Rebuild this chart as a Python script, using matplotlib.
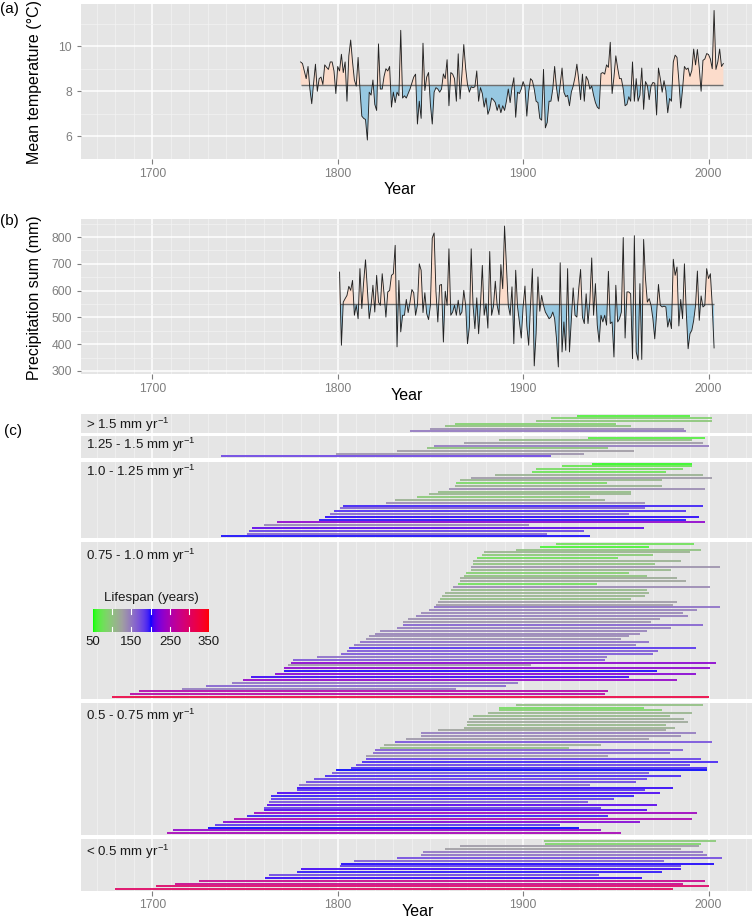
import numpy as np
import matplotlib
matplotlib.use("Agg")
import matplotlib.pyplot as plt
from matplotlib.collections import LineCollection

plt.rcParams['font.family'] = ['Liberation Sans', 'DejaVu Sans']
plt.rcParams['mathtext.fontset'] = 'custom'
plt.rcParams['mathtext.rm'] = 'Liberation Sans'
plt.rcParams['mathtext.it'] = 'Liberation Sans:italic'
plt.rcParams['mathtext.bf'] = 'Liberation Sans:bold'

# ---------------- data ----------------
temp_start_year = 1780
temp = [9.3, 9.23, 8.9, 8.56, 9.1, 8.1, 7.45, 8.36, 9.2, 8.0,
        8.56, 8.63, 8.3, 9.17, 9.06, 8.97, 9.3, 9.3, 8.9, 7.9,
        9.1, 8.9, 9.64, 8.83, 9.3, 7.56, 9.57, 10.27, 9.3, 8.5,
        8.23, 9.5, 8.1, 6.9, 6.8, 6.75, 5.84, 7.96, 7.83, 8.5,
        7.42, 7.15, 10.1, 8.1, 8.1, 8.66, 9.0, 8.9, 9.1, 7.3,
        7.96, 7.5, 7.96, 7.8, 10.7, 7.7, 7.8, 7.7, 7.9, 8.1,
        8.36, 8.63, 8.76, 6.55, 7.56, 6.8, 10.13, 8.03, 8.63, 8.83,
        7.42, 6.55, 7.96, 8.16, 8.1, 7.96, 8.1, 8.77, 8.56, 9.4,
        7.36, 8.83, 8.76, 8.56, 7.56, 9.66, 7.66, 8.76, 10.07, 9.03,
        8.3, 7.96, 8.2, 8.16, 8.2, 8.9, 7.56, 8.16, 7.9, 7.3,
        7.7, 6.98, 7.22, 7.7, 7.62, 7.5, 7.15, 7.42, 7.05, 7.36,
        7.15, 7.56, 8.1, 7.5, 8.16, 8.6, 6.85, 7.96, 7.9, 8.1,
        8.43, 8.19, 6.9, 7.96, 8.56, 8.47, 8.1, 7.56, 7.5, 6.8,
        6.72, 8.97, 6.38, 6.62, 7.56, 7.56, 8.1, 9.1, 8.16, 7.56,
        8.3, 9.03, 7.96, 7.76, 7.82, 7.36, 7.96, 8.23, 8.63, 9.2,
        8.5, 7.63, 8.76, 7.56, 8.66, 8.5, 8.1, 8.23, 7.83, 7.5,
        7.3, 7.22, 8.79, 8.83, 8.76, 9.17, 9.06, 10.17, 7.9, 8.63,
        9.57, 9.03, 8.56, 8.56, 8.1, 7.36, 7.42, 7.76, 7.56, 9.3,
        7.56, 8.56, 7.56, 7.83, 9.03, 7.2, 8.43, 8.26, 7.63, 8.23,
        8.39, 8.36, 6.95, 9.03, 8.56, 7.96, 8.47, 8.03, 7.05, 7.68,
        7.56, 9.3, 9.6, 9.5, 8.47, 7.26, 8.1, 9.1, 8.97, 9.03,
        8.66, 8.93, 9.87, 9.17, 9.85, 9.03, 8.0, 9.37, 9.43, 9.67,
        9.63, 9.43, 9.0, 11.58, 8.97, 9.3, 9.87, 9.1, 9.23]
temp_ref = 8.28

precip_start_year = 1801
precip = [669, 396, 557, 570, 582, 616, 601, 638, 508, 545,
          495, 682, 533, 632, 715, 607, 495, 545, 620, 520,
          657, 557, 545, 663, 588, 501, 595, 601, 657, 663,
          769, 390, 638, 446, 508, 508, 567, 518, 557, 604,
          592, 508, 545, 700, 676, 518, 592, 514, 492, 545,
          797, 815, 595, 483, 620, 623, 408, 598, 545, 756,
          508, 520, 545, 508, 564, 508, 520, 601, 545, 402,
          464, 756, 545, 458, 573, 439, 545, 694, 508, 551,
          460, 746, 508, 541, 635, 545, 510, 697, 607, 841,
          694, 545, 508, 614, 402, 676, 539, 483, 423, 539,
          617, 468, 396, 545, 682, 319, 439, 651, 523, 582,
          545, 520, 508, 495, 501, 520, 495, 421, 315, 704,
          371, 483, 377, 682, 371, 489, 610, 508, 501, 607,
          679, 501, 477, 588, 477, 560, 722, 508, 626, 471,
          408, 508, 483, 508, 471, 672, 477, 483, 352, 620,
          483, 495, 520, 798, 423, 595, 595, 588, 346, 805,
          371, 340, 626, 343, 791, 645, 557, 570, 545, 495,
          420, 514, 623, 545, 539, 542, 539, 464, 495, 458,
          717, 657, 688, 468, 567, 495, 700, 520, 383, 439,
          452, 489, 545, 673, 489, 580, 539, 545, 682, 645,
          663, 545, 386]
precip_ref = 550

# Tree life spans (first year, last year) per growth-rate class, top row first
gt150_start = [1929, 1915, 1907, 1863, 1858, 1850, 1839]
gt150_end = [1990, 2002, 2002, 1950, 1958, 1987, 1988]

r125_150_start = [1935, 1887, 1868, 1852, 1848, 1832, 1799, 1737]
r125_150_end = [1998, 1991, 1997, 2000, 1946, 1960, 1933, 1915]

r100_125_start = [1937, 1921, 1907, 1905, 1885, 1872, 1866, 1864, 1863, 1860,
                  1854, 1849, 1843, 1831, 1826, 1803, 1801, 1798, 1796, 1793,
                  1790, 1767, 1760, 1754, 1752, 1751, 1737]
r100_125_end = [1991, 1991, 1986, 1977, 1997, 2002, 1975, 1945, 1975, 1998,
                1958, 1958, 1936, 1944, 1966, 1997, 1966, 1988, 1957, 1995,
                1988, 1998, 1903, 1965, 1933, 1913, 1936]

r075_100_start = [1918, 1909, 1896, 1879, 1878, 1875, 1873, 1873, 1872, 1872,
                  1869, 1868, 1866, 1866, 1865, 1862, 1861, 1858, 1856, 1855,
                  1854, 1853, 1852, 1849, 1845, 1842, 1838, 1835, 1835, 1832,
                  1823, 1820, 1817, 1815, 1812, 1809, 1806, 1805, 1802, 1789,
                  1776, 1775, 1773, 1771, 1771, 1766, 1753, 1749, 1743, 1729,
                  1716, 1693, 1688, 1678]
r075_100_end = [1992, 1968, 1996, 1990, 1970, 1951, 1985, 1971, 2006, 1980,
                1957, 1967, 1983, 1988, 1940, 2001, 1967, 1968, 1966, 1958,
                1983, 1981, 2006, 1994, 1986, 1989, 1974, 1969, 1997, 1980,
                1967, 1963, 1957, 1953, 1968, 1961, 1993, 1973, 1970, 1945,
                1944, 2004, 1904, 2001, 1972, 1993, 1957, 1983, 1897, 1891,
                1864, 1946, 1944, 2000]

r050_075_start = [1896, 1887, 1887, 1881, 1873, 1871, 1870, 1870, 1868, 1854,
                  1845, 1845, 1837, 1831, 1825, 1823, 1820, 1819, 1815, 1815,
                  1813, 1810, 1807, 1799, 1797, 1793, 1787, 1783, 1779, 1778,
                  1778, 1767, 1764, 1764, 1763, 1762, 1760, 1760, 1755, 1751,
                  1744, 1738, 1734, 1730, 1711, 1708]
r050_075_end = [1997, 1965, 1975, 1991, 1979, 1987, 1989, 1977, 1982, 1977,
                1993, 1985, 1968, 2002, 1942, 1925, 1986, 1979, 1946, 1996,
                2005, 1990, 1999, 1999, 1968, 1985, 1967, 1961, 1936, 1981,
                1966, 1974, 1960, 1949, 1935, 1972, 1942, 1967, 1994, 1946,
                1991, 1963, 1920, 1930, 1942, 1953]

lt050_start = [1911, 1912, 1866, 1858, 1846, 1845, 1832, 1809, 1802, 1801,
               1780, 1778, 1763, 1761, 1725, 1712, 1702, 1680]
lt050_end = [2004, 1996, 1995, 1985, 1997, 1999, 2007, 1976, 2003, 1985,
             1985, 1975, 1941, 1964, 1998, 1986, 2000, 1981]

facet_labels = [r"> 1.5 mm yr$^{\mathrm{-1}}$", r"1.25 - 1.5 mm yr$^{\mathrm{-1}}$",
                r"1.0 - 1.25 mm yr$^{\mathrm{-1}}$", r"0.75 - 1.0 mm yr$^{\mathrm{-1}}$",
                r"0.5 - 0.75 mm yr$^{\mathrm{-1}}$", r"< 0.5 mm yr$^{\mathrm{-1}}$"]
facet_starts = [gt150_start, r125_150_start, r100_125_start, r075_100_start, r050_075_start, lt050_start]
facet_ends = [gt150_end, r125_150_end, r100_125_end, r075_100_end, r050_075_end, lt050_end]

lifespan_limits = (50, 350)
lifespan_stops = [0.0, 0.25, 0.5, 1.0]
lifespan_stop_colors = ['#00FF00', '#A0A0A0', '#0000FF', '#FF0000']
legend_ticks = [100, 150, 200, 250, 300]
legend_labels = [50, 150, 250, 350]
year_breaks = [1700, 1800, 1900, 2000]

# ---------------- colour scale (Lab interpolation like ggplot) ----------------
_M = np.array([[0.4124, 0.3576, 0.1805], [0.2126, 0.7152, 0.0722], [0.0193, 0.1192, 0.9505]])
_WHITE = np.array([0.95047, 1.0, 1.08883])


def _hex2rgb(h):
    h = h.lstrip('#')
    return np.array([int(h[i:i + 2], 16) / 255 for i in (0, 2, 4)])


def _rgb2lab(rgb):
    lin = np.where(rgb <= 0.04045, rgb / 12.92, ((rgb + 0.055) / 1.055) ** 2.4)
    xyz = lin @ _M.T / _WHITE
    d = 6 / 29
    f = np.where(xyz > d ** 3, np.cbrt(xyz), xyz / (3 * d * d) + 4 / 29)
    return np.array([116 * f[1] - 16, 500 * (f[0] - f[1]), 200 * (f[1] - f[2])])


def _lab2rgb(lab):
    L, a, b = lab[..., 0], lab[..., 1], lab[..., 2]
    fy = (L + 16) / 116
    fx = fy + a / 500
    fz = fy - b / 200
    d = 6 / 29

    def finv(f):
        return np.where(f > d, f ** 3, 3 * d * d * (f - 4 / 29))
    xyz = np.stack([finv(fx), finv(fy), finv(fz)], -1) * _WHITE
    lin = np.clip(xyz @ np.linalg.inv(_M).T, 0, 1)
    rgb = np.where(lin <= 0.0031308, 12.92 * lin, 1.055 * lin ** (1 / 2.4) - 0.055)
    return np.clip(rgb, 0, 1)


_stop_labs = np.array([_rgb2lab(_hex2rgb(c)) for c in lifespan_stop_colors])


def lifespan_color(v):
    v = np.asarray(v, float)
    t = np.clip((v - lifespan_limits[0]) / (lifespan_limits[1] - lifespan_limits[0]), 0, 1)
    lab = np.stack([np.interp(t, lifespan_stops, _stop_labs[:, k]) for k in range(3)], -1)
    return _lab2rgb(lab)


# ---------------- figure ----------------
W, H, DPI = 752, 917, 100
fig = plt.figure(figsize=(W / DPI, H / DPI), dpi=DPI)
fig.patch.set_facecolor('white')

PANEL_BG = '#E5E5E5'
TICK_COL = '#7F7F7F'
TICK_FS = 8.8
TITLE_FS = 11.5
PX = 72 / DPI  # points per pixel


def add_ax(l, t, r, b):
    return fig.add_axes([l / W, 1 - b / H, (r - l) / W, (b - t) / H])


def ftext(x, y, s, **kw):
    return fig.text(x / W, 1 - y / H, s, **kw)


all_starts = np.concatenate([np.array(s, float) for s in facet_starts])
all_ends = np.concatenate([np.array(e, float) for e in facet_ends])
x0, x1 = all_starts.min(), all_ends.max()
xpad = 0.05 * (x1 - x0)
XLIM = (x0 - xpad, x1 + xpad)
minor_years = [y for y in range(1670, 2030, 10) if y not in year_breaks]


def style_common(ax):
    ax.set_facecolor(PANEL_BG)
    for sp in ax.spines.values():
        sp.set_visible(False)
    ax.set_axisbelow(True)
    ax.set_xlim(*XLIM)
    ax.set_xticks(year_breaks)
    ax.set_xticks(minor_years, minor=True)
    ax.grid(which='major', axis='x', color='white', lw=1.1)
    ax.grid(which='minor', axis='x', color='#F2F2F2', lw=0.55)
    ax.tick_params(which='major', color=TICK_COL, length=4.5 * PX, width=0.8,
                   labelcolor=TICK_COL, labelsize=TICK_FS, pad=3.5)
    ax.tick_params(which='minor', length=0)


def series_panel(ax, years, vals, ref, yticks, yminor):
    style_common(ax)
    vals = np.asarray(vals, float)
    ax.fill_between(years, vals, ref, where=vals >= ref, interpolate=True,
                    color='#FCDCCB', lw=0, zorder=2)
    ax.fill_between(years, vals, ref, where=vals <= ref, interpolate=True,
                    color='#97C8E1', lw=0, zorder=2)
    ax.hlines(ref, years[0], years[-1], color='#6E6E6E', lw=1.0, zorder=3)
    ax.plot(years, vals, color='#222222', lw=0.65, zorder=4)
    lo, hi = vals.min(), vals.max()
    pad = 0.05 * (hi - lo)
    ax.set_ylim(lo - pad, hi + pad)
    ax.set_yticks(yticks)
    ax.set_yticks(yminor, minor=True)
    ax.grid(which='major', axis='y', color='white', lw=1.1)
    ax.grid(which='minor', axis='y', color='#F2F2F2', lw=0.55)
    ax.tick_params(axis='y', which='major', pad=3.2)


# Panel (a)
t_years = np.arange(temp_start_year, temp_start_year + len(temp))
axa = add_ax(81, 4, 752, 159)
series_panel(axa, t_years, temp, temp_ref, [6, 8, 10], [5, 7, 9, 11])
ftext(0, 9, "(a)", fontsize=11, ha='left', va='center')
ftext(35, 82, "Mean temperature (°C)", fontsize=TITLE_FS, rotation=90, ha='center', va='center')
ftext(400, 190, "Year", fontsize=TITLE_FS, ha='center', va='center')

# Panel (b)
p_years = np.arange(precip_start_year, precip_start_year + len(precip))
axb = add_ax(81, 219, 752, 374)
series_panel(axb, p_years, precip, precip_ref, [300, 400, 500, 600, 700, 800],
             [350, 450, 550, 650, 750, 850])
ftext(0, 221, "(b)", fontsize=11, ha='left', va='center')
ftext(35, 298, "Precipitation sum (mm)", fontsize=TITLE_FS, rotation=90, ha='center', va='center')
ftext(407, 396, "Year", fontsize=TITLE_FS, ha='center', va='center')

# Panel (c)
facet_px = [(414, 433), (436, 458), (462, 538), (542, 699), (703, 835), (839, 891)]
label_y = [425, 445, 472, 556, 716, 852]
for i, (lab, s, e) in enumerate(zip(facet_labels, facet_starts, facet_ends)):
    top, bot = facet_px[i]
    ax = add_ax(81, top, 752, bot)
    style_common(ax)
    n = len(s)
    ys = np.arange(n, 0, -1)
    segs = [[(s[k], ys[k]), (e[k], ys[k])] for k in range(n)]
    cols = lifespan_color(np.array(e, float) - np.array(s, float))
    ax.add_collection(LineCollection(segs, colors=cols, linewidths=1.25, capstyle='butt', zorder=3))
    ax.set_ylim(0.4, n + 0.6)
    ax.set_yticks([])
    if i < len(facet_labels) - 1:
        ax.tick_params(axis='x', which='both', length=0, labelbottom=False)
    else:
        ax.tick_params(axis='x', pad=2.5)
    ftext(86, label_y[i], lab, fontsize=9.6, ha='left', va='center', color='#1A1A1A')

ftext(4, 431, "(c)", fontsize=11, ha='left', va='center')
ftext(418, 911, "Year", fontsize=TITLE_FS, ha='center', va='center')

# Legend (colour bar)
cb_l, cb_t, cb_r, cb_b = 92.6, 609, 208.6, 632
cax = add_ax(cb_l, cb_t, cb_r, cb_b)
grad = np.linspace(lifespan_limits[0], lifespan_limits[1], 300)
cax.imshow(lifespan_color(grad)[None, :, :], aspect='auto',
           extent=(lifespan_limits[0], lifespan_limits[1], 0, 1))
for v in legend_ticks:
    cax.plot([v, v], [0, 0.2], color='white', lw=0.8)
    cax.plot([v, v], [0.8, 1], color='white', lw=0.8)
cax.set_xlim(*lifespan_limits)
cax.set_ylim(0, 1)
cax.axis('off')
ftext((cb_l + cb_r) / 2 + 1, 598, "Lifespan (years)", fontsize=9.5, ha='center', va='center', color='#1A1A1A')
for v in legend_labels:
    xp = cb_l + (v - lifespan_limits[0]) / (lifespan_limits[1] - lifespan_limits[0]) * (cb_r - cb_l)
    ftext(xp, 642, str(v), fontsize=9.5, ha='center', va='center', color='#1A1A1A')

fig.savefig("out.png", dpi=DPI)
